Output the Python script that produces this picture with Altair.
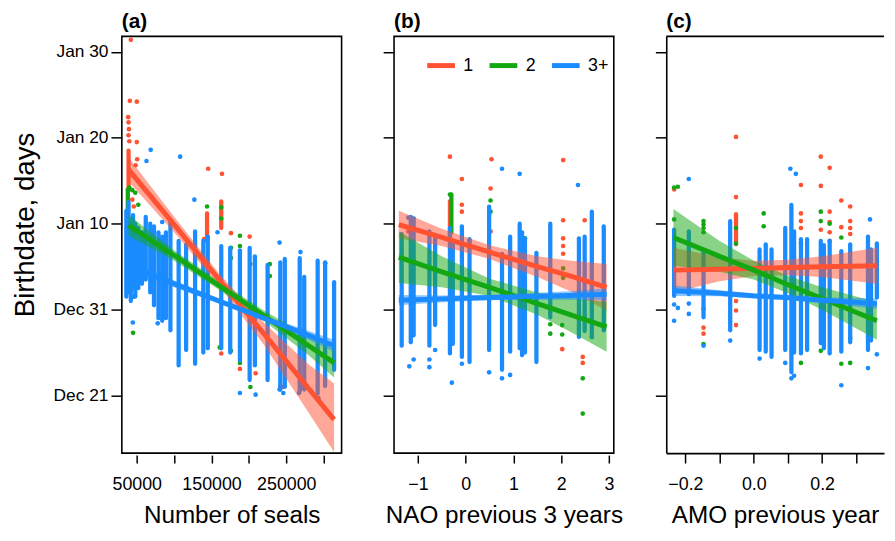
import altair as alt
import pandas as pd

FONT = "Liberation Sans"
GROUPS = ["1", "2", "3+"]
COLORS = ["#FF5233", "#13A813", "#1A8CFF"]

Y_TICKS = [-10, 0, 10, 20, 30]
Y_LABELS = ["Dec 21", "Dec 31", "Jan 10", "Jan 20", "Jan 30"]
Y_DOMAIN = [-16.7, 31.8]

# ---------------- panel (a): number of seals ----------------
A_DOMAIN = [30000, 324000]
A_TICKS = [50000, 100000, 150000, 200000, 250000, 300000]
A_LABELED = [50000, 150000, 250000]

# vertical runs of overlapping points: (x, lowest, highest)
A_RED_STRIPS = [(39000, 14.0, 18.5), (144000, 8.0, 11.2), (163000, 9.5, 12.6)]
A_GREEN_STRIPS = [(38000, 5.0, 14.0)]
A_BLUE_STRIPS = [
    (36000, 1.5, 11.5), (39000, 2.0, 12.5), (42000, 1.0, 10.5), (45000, 2.5, 11.0),
    (48000, 1.5, 10.0), (52000, 2.5, 9.5), (57000, 3.0, 9.0), (62000, 3.5, 10.8),
    (68000, 2.0, 10.0), (73000, 0.5, 9.7), (79000, -1.0, 9.0), (84000, -1.3, 8.5),
    (89000, -1.0, 9.0), (95000, -2.4, 10.2), (106000, -6.5, 8.0), (116000, -4.7, 7.6),
    (128000, -6.3, 9.1), (139000, -5.0, 8.0), (145000, -4.5, 8.5), (163000, -4.5, 7.4),
    (175000, -5.0, 7.2), (188000, -5.9, 6.9), (201000, -8.2, 7.2), (208000, -6.5, 6.2),
    (225000, -8.2, 5.2), (242000, -9.3, 5.5), (248000, -9.0, 5.9), (268000, -9.5, 6.0),
    (274000, -9.3, 3.8), (292000, -9.8, 5.7), (302000, -8.9, 5.5), (314000, -7.0, 3.2),
]
# single points: (x, y)
A_RED_POINTS = [
    (42000, 31.4), (40700, 24.3), (50000, 24.2), (38500, 22.4), (39000, 21.8),
    (39500, 21.0), (39000, 20.3), (40000, 19.6), (50000, 19.5), (50500, 17.5),
    (48500, 16.8), (44000, 12.8), (46000, 12.0), (145500, 16.4), (164000, 15.8),
    (176000, 8.9), (201000, 8.5), (140000, 8.2), (163000, -5.1), (188000, -6.9),
    (242000, -9.0), (245000, -9.0), (209000, -7.4),
]
A_GREEN_POINTS = [
    (40000, 14.2), (44000, 13.9), (48000, 13.6), (52000, 12.2), (144000, 12.0),
    (163000, 11.9), (163000, 10.6), (188000, 8.6), (188000, 7.4), (176000, 7.2),
    (176000, 6.0), (202000, 5.3), (228000, 5.3), (228000, 3.9), (45000, 1.5),
    (45000, -2.7), (161000, -4.4), (176000, -4.8), (188000, -6.2), (202000, -9.0),
]
A_BLUE_POINTS = [
    (68600, 18.6), (63000, 17.3), (108000, 17.8), (127000, 12.8), (241000, 7.8),
    (269000, 6.7), (302000, 5.4), (44700, -1.5), (78000, -1.6), (188000, -9.7),
    (209000, -9.9), (241000, -9.3), (246000, -9.7), (267000, -9.7), (293000, -10.3),
    (271000, -9.1), (84000, 10.2), (158000, 9.0),
]
A_FIT_X = [39000, 100000, 160000, 220000, 280000, 314000]
A_FIT_RED = [16.3, 9.9, 3.5, -2.8, -9.2, -12.8]
A_LO_RED = [14.9, 9.0, 2.8, -4.1, -12.0, -16.6]
A_HI_RED = [17.7, 10.8, 4.2, -1.5, -6.4, -8.6]
A_FIT_GREEN = [9.8, 6.3, 2.8, -0.7, -4.2, -6.2]
A_LO_GREEN = [8.6, 5.7, 2.3, -1.3, -5.3, -7.9]
A_HI_GREEN = [11.0, 6.9, 3.3, -0.1, -3.1, -4.5]
A_FIT_BLUE = [5.1, 3.0, 1.0, -1.0, -3.0, -4.2]
A_LO_BLUE = [4.5, 2.6, 0.7, -1.3, -3.5, -4.9]
A_HI_BLUE = [5.7, 3.4, 1.3, -0.7, -2.5, -3.5]

# ---------------- panel (b): NAO previous 3 years ----------------
B_DOMAIN = [-1.5, 3.1]
B_TICKS = [-1, 0, 1, 2, 3]
B_LABELED = [-1, 0, 1, 2, 3]

B_RED_STRIPS = [(-0.33, 8.0, 12.6)]
B_GREEN_STRIPS = [(-0.30, 9.0, 13.4)]
B_BLUE_STRIPS = [
    (-1.34, -4.2, 8.8), (-1.15, -3.8, 10.8), (-1.09, -3.0, 10.6), (-0.76, -4.2, 9.1),
    (-0.64, -1.8, 8.3), (-0.33, -5.1, 9.5), (-0.27, -4.0, 8.0), (-0.08, -5.5, 9.7),
    (0.08, -6.1, 8.2), (0.49, -4.7, 12.0), (0.76, -7.0, 6.5), (0.93, -4.9, 8.5),
    (1.13, -4.5, 10.0), (1.18, -5.3, 9.0), (1.24, -5.0, 8.3), (1.48, -6.1, 6.6),
    (1.77, -0.9, 10.0), (2.37, -3.2, 8.3), (2.49, -2.5, 8.5), (2.64, -3.2, 11.4),
    (2.89, -2.4, 9.7),
]
B_RED_POINTS = [
    (-0.33, 17.8), (0.54, 17.5), (2.04, 17.4), (-0.08, 15.2), (0.52, 14.1),
    (-0.08, 12.2), (-0.08, 11.4), (0.08, 8.0), (0.08, 7.3), (-1.2, 9.1), (0.52, 9.1),
    (2.04, 10.4), (2.04, 8.3), (2.04, 7.4), (2.04, 6.5), (2.49, 10.4), (2.02, -4.6),
    (2.45, -5.5), (2.45, -6.2),
]
B_GREEN_POINTS = [
    (-0.33, 13.4), (0.52, 12.7), (0.52, 11.4), (2.04, 3.7), (1.24, 8.3), (1.77, -1.7),
    (1.77, -2.8), (2.02, -1.8), (2.02, -2.9), (2.45, -8.0), (2.45, -12.1), (2.64, -3.2),
    (2.04, 4.8),
]
B_BLUE_POINTS = [
    (-1.18, -6.6), (-1.09, -5.8), (-0.76, -5.8), (-0.76, -6.7), (-0.64, -4.7),
    (-0.29, -8.5), (-0.08, -6.3), (0.49, -7.3), (0.76, -8.0), (0.93, -7.6),
    (0.76, 16.4), (1.13, 15.8), (2.35, 14.5), (-1.2, 10.7), (-1.09, 10.6),
]
B_FIT_X = [-1.4, -0.5, 0.5, 1.5, 2.2, 2.95]
B_FIT_RED = [9.9, 8.4, 6.7, 5.0, 3.9, 2.6]
B_LO_RED = [8.3, 7.4, 5.9, 3.8, 2.1, -0.1]
B_HI_RED = [11.5, 9.4, 7.5, 6.2, 5.7, 5.3]
B_FIT_GREEN = [6.1, 4.4, 2.6, 0.7, -0.6, -2.0]
B_LO_GREEN = [3.1, 2.6, 1.6, -0.6, -2.6, -4.9]
B_HI_GREEN = [9.1, 6.2, 3.6, 2.0, 1.4, 0.9]
B_FIT_BLUE = [1.1, 1.25, 1.4, 1.55, 1.65, 1.8]
B_LO_BLUE = [0.5, 0.85, 1.1, 1.15, 1.15, 1.1]
B_HI_BLUE = [1.7, 1.65, 1.7, 1.95, 2.15, 2.5]

# ---------------- panel (c): AMO previous year ----------------
C_DOMAIN = [-0.256, 0.381]
C_TICKS = [-0.2, -0.1, 0.0, 0.1, 0.2, 0.3]
C_LABELED = [-0.2, 0.0, 0.2]

C_RED_STRIPS = [(-0.052, 7.6, 11.1)]
C_GREEN_STRIPS = []
C_BLUE_STRIPS = [
    (-0.233, 1.6, 9.3), (-0.19, 1.8, 9.1), (-0.147, -0.9, 6.8), (-0.069, -2.4, 10.3),
    (0.017, -4.7, 7.0), (0.035, -4.9, 7.6), (0.052, -5.5, 7.0), (0.092, -4.7, 9.5),
    (0.11, -7.3, 12.2), (0.118, -5.0, 9.1), (0.138, -5.1, 8.2), (0.156, -4.7, 8.2),
    (0.196, -3.9, 8.0), (0.205, -4.5, 7.5), (0.222, -5.1, 8.0), (0.256, -4.9, 6.8),
    (0.282, -3.8, 7.6), (0.334, -4.7, 8.5), (0.343, -3.6, 7.0), (0.36, 1.4, 7.7),
]
C_RED_POINTS = [
    (-0.233, 14.0), (-0.052, 20.1), (-0.052, 13.1), (0.196, 17.8), (0.196, 14.4),
    (0.222, 16.5), (0.138, 14.5), (0.138, 11.2), (0.138, 10.3), (0.138, 9.5),
    (0.256, 12.7), (0.282, 12.0), (0.282, 10.3), (0.282, 9.5), (0.282, 8.8),
    (0.256, 9.6), (0.222, 11.4), (0.222, 10.2), (0.222, 9.0), (0.222, 8.0),
    (0.196, 9.3), (-0.052, 1.0), (-0.052, -0.1), (-0.052, -1.8), (-0.147, -2.1),
    (-0.147, -2.8),
]
C_GREEN_POINTS = [
    (-0.233, 14.2), (-0.222, 14.3), (-0.233, 10.5), (-0.147, 10.3), (-0.147, 9.9),
    (-0.147, 9.5), (-0.147, 9.0), (-0.052, 9.5), (-0.052, 7.7), (0.029, 11.2),
    (0.029, 9.7), (0.196, 11.4), (0.196, 10.3), (0.222, 10.0), (0.256, 8.4),
    (0.138, 7.7), (-0.147, 0.1), (-0.147, -4.0), (0.196, -4.8), (0.138, -6.2),
    (0.256, -6.3), (0.282, -6.2), (0.282, -3.3),
]
C_BLUE_POINTS = [
    (-0.233, 0.6), (-0.222, 0.2), (-0.233, -1.3), (-0.19, 0.7), (-0.19, -0.5),
    (-0.147, -4.2), (-0.069, -3.6), (0.017, -5.7), (0.092, -6.2), (0.11, -8.0),
    (0.118, -7.7), (0.256, -8.8), (0.334, -6.8), (0.36, -5.2), (-0.19, 15.2),
    (0.107, 16.4), (0.123, 15.8), (0.34, 10.5),
]
C_FIT_X = [-0.235, -0.1, 0.0, 0.1, 0.2, 0.36]
C_FIT_RED = [4.6, 4.7, 4.8, 4.9, 5.0, 5.1]
C_LO_RED = [2.0, 3.3, 3.9, 4.0, 3.8, 3.0]
C_HI_RED = [7.2, 6.1, 5.7, 5.8, 6.2, 7.2]
C_FIT_GREEN = [8.4, 6.2, 4.6, 2.9, 1.3, -1.3]
C_LO_GREEN = [5.1, 4.4, 3.5, 1.9, 0.0, -3.5]
C_HI_GREEN = [11.7, 8.0, 5.7, 3.9, 2.6, 0.9]
C_FIT_BLUE = [2.2, 1.9, 1.6, 1.4, 1.1, 0.7]
C_LO_BLUE = [1.6, 1.55, 1.3, 1.1, 0.75, 0.1]
C_HI_BLUE = [2.8, 2.25, 1.9, 1.7, 1.45, 1.3]

FRAME_W = 1.6


def strips_df(g, rows):
    return pd.DataFrame({"x": [r[0] for r in rows], "lo": [r[1] for r in rows],
                         "hi": [r[2] for r in rows], "group": g})


def points_df(g, rows):
    return pd.DataFrame({"x": [r[0] for r in rows], "lo": [r[1] for r in rows], "group": g})


def fit_df(xs, fits, los, his):
    frames = []
    for g, f, lo, hi in zip(GROUPS, fits, los, his):
        frames.append(pd.DataFrame({"x": xs, "fit": f, "lo": lo, "hi": hi, "group": g}))
    return pd.concat(frames, ignore_index=True)


y_expr = " : ".join(f"datum.value == {v} ? '{l}'" for v, l in zip(Y_TICKS, Y_LABELS)) + " : ''"


def panel(letter, strips, points, fits, domain, ticks, labeled, fmt, xtitle, first, legend,
          width, open_right=False):
    color_scale = alt.Scale(domain=GROUPS, range=COLORS)
    x_axis = alt.Axis(values=ticks, format=fmt,
                      labelExpr=f"indexof({labeled}, datum.value) >= 0 ? format(datum.value, '{fmt}') : ''",
                      title=xtitle, titleFontSize=24.5, titleFontWeight="normal", titlePadding=10,
                      labelFontSize=18, labelPadding=13,
                      tickSize=10 if open_right else 8, offset=0 if open_right else 2,
                      domain=open_right, domainColor="black", domainWidth=FRAME_W,
                      grid=False, tickColor="black", tickWidth=1.5, labelColor="black",
                      titleColor="black", labelFlush=False, labelOverlap=False)
    if first:
        y_axis = alt.Axis(values=Y_TICKS, labelExpr=y_expr, title="Birthdate, days",
                          titleFontSize=28, titleFontWeight="normal", titleX=-83, titleY=190,
                          titleBaseline="bottom", titleAlign="center", titleAngle=270,
                          labelFontSize=17.5, labelPadding=3, tickSize=11, domain=False, grid=False,
                          tickColor="black", tickWidth=1.5, labelColor="black", titleColor="black")
    else:
        y_axis = alt.Axis(values=Y_TICKS, labels=False, title=None, tickSize=11,
                          domain=open_right, domainColor="black", domainWidth=FRAME_W,
                          grid=False, tickColor="black", tickWidth=1.5)
    xs = alt.Scale(domain=domain, nice=False, zero=False)
    ys = alt.Scale(domain=Y_DOMAIN, nice=False, zero=False)
    if legend:
        cplain = alt.Color("group:N", scale=color_scale)
        leg = alt.Legend(orient="none", legendX=31, legendY=13, direction="horizontal",
                         title=None, symbolType="stroke", symbolStrokeWidth=5, symbolSize=784,
                         labelFontSize=18, labelFont=FONT, labelColor="black", gridAlign="none",
                         columnPadding=5, labelOffset=6, padding=0, symbolOpacity=1)
        cline = alt.Color("group:N", scale=color_scale, legend=leg)
    else:
        cplain = alt.Color("group:N", scale=color_scale, legend=None)
        cline = cplain

    # invisible base layer that carries the axes
    fd = fit_df(*fits)
    base = alt.Chart(fd).mark_line(opacity=0).encode(
        x=alt.X("x:Q", scale=xs, axis=x_axis, title=xtitle),
        y=alt.Y("fit:Q", scale=ys, axis=y_axis),
        detail="group:N")
    layers = [base]
    for g in GROUPS:
        s = strips[g]
        if len(s):
            layers.append(
                alt.Chart(strips_df(g, s)).mark_rule(strokeWidth=4.3, strokeCap="round").encode(
                    x="x:Q", y="lo:Q", y2="hi:Q", color=cplain))
        p = points[g]
        if len(p):
            layers.append(
                alt.Chart(points_df(g, p)).mark_circle(size=22, opacity=1).encode(
                    x="x:Q", y="lo:Q", color=cplain))

    band = alt.Chart(fd).mark_area(opacity=0.5).encode(
        x="x:Q", y="lo:Q", y2="hi:Q", color=cplain)
    line = alt.Chart(fd).mark_line(strokeWidth=5).encode(x="x:Q", y="fit:Q", color=cline)
    layers += [band, line]
    props = dict(width=width, height=421,
                 title=alt.TitleParams(letter, anchor="start", frame="group", fontSize=21,
                                       fontWeight="bold", font=FONT, offset=4, color="black"))
    if open_right:
        # panel cut by the figure edge: top edge of the box only, no right edge
        top_edge = alt.Chart(fd.head(1)).mark_rule(
            color="black", strokeWidth=FRAME_W).encode(
            x=alt.value(0), x2=alt.value(width), y=alt.value(0))
        layers.append(top_edge)
        props["view"] = alt.ViewBackground(stroke=None)
    return alt.layer(*layers).properties(**props)


pa = panel("(a)",
           {"1": A_RED_STRIPS, "2": A_GREEN_STRIPS, "3+": A_BLUE_STRIPS},
           {"1": A_RED_POINTS, "2": A_GREEN_POINTS, "3+": A_BLUE_POINTS},
           (A_FIT_X, [A_FIT_RED, A_FIT_GREEN, A_FIT_BLUE], [A_LO_RED, A_LO_GREEN, A_LO_BLUE],
            [A_HI_RED, A_HI_GREEN, A_HI_BLUE]),
           A_DOMAIN, A_TICKS, A_LABELED, "d", "Number of seals", True, False, 222)
pb = panel("(b)",
           {"1": B_RED_STRIPS, "2": B_GREEN_STRIPS, "3+": B_BLUE_STRIPS},
           {"1": B_RED_POINTS, "2": B_GREEN_POINTS, "3+": B_BLUE_POINTS},
           (B_FIT_X, [B_FIT_RED, B_FIT_GREEN, B_FIT_BLUE], [B_LO_RED, B_LO_GREEN, B_LO_BLUE],
            [B_HI_RED, B_HI_GREEN, B_HI_BLUE]),
           B_DOMAIN, B_TICKS, B_LABELED, "d", "NAO previous 3 years", False, True, 222)
pc = panel("(c)",
           {"1": C_RED_STRIPS, "2": C_GREEN_STRIPS, "3+": C_BLUE_STRIPS},
           {"1": C_RED_POINTS, "2": C_GREEN_POINTS, "3+": C_BLUE_POINTS},
           (C_FIT_X, [C_FIT_RED, C_FIT_GREEN, C_FIT_BLUE], [C_LO_RED, C_LO_GREEN, C_LO_BLUE],
            [C_HI_RED, C_HI_GREEN, C_HI_BLUE]),
           C_DOMAIN, C_TICKS, C_LABELED, ".1f", "AMO previous year", False, False, 220,
           open_right=True)

chart = alt.hconcat(pa, pb, pc, spacing=53, bounds="flush").resolve_scale(
    color="independent"
).configure(
    padding={"left": 3, "top": 0, "right": 0, "bottom": 0},
    background="white",
    view=alt.ViewConfig(stroke="black", strokeWidth=FRAME_W),
    axis=alt.AxisConfig(labelFont=FONT, titleFont=FONT),
)

chart.save("out.html", embed_options={"renderer": "svg", "actions": False})
